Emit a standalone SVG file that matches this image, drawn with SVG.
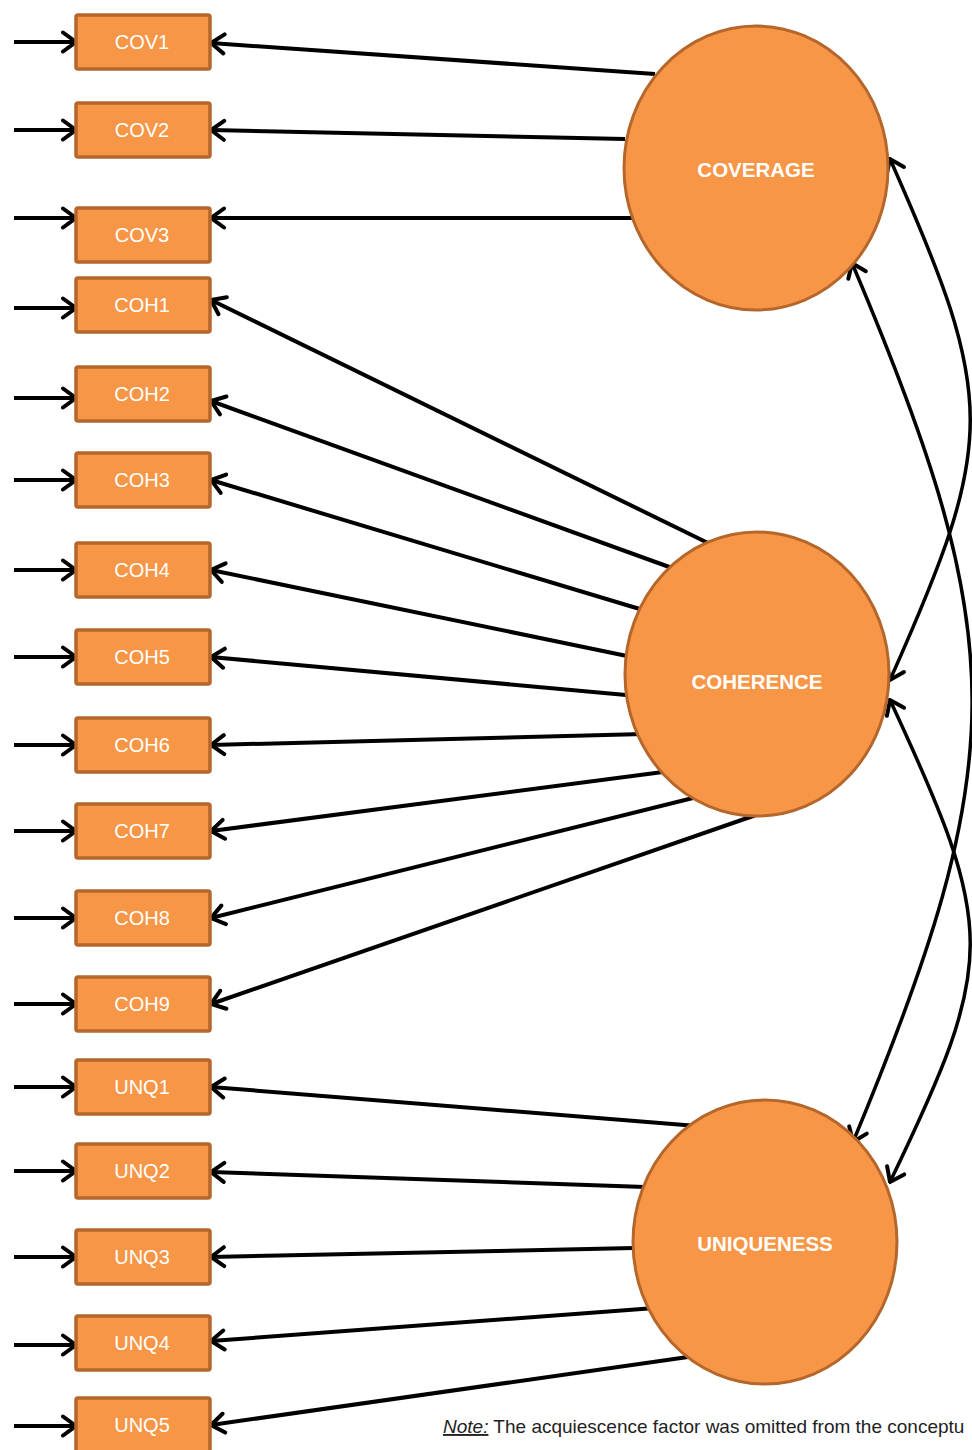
<svg xmlns="http://www.w3.org/2000/svg" width="972" height="1450" viewBox="0 0 972 1450">
<style>
.box{fill:#F79646;stroke:#B5662B;stroke-width:3.5}
.lat{fill:#F79646;stroke:#B5662B;stroke-width:3}
.bl{font-family:"Liberation Sans",Arial,sans-serif;font-size:20px;fill:#FFFFFF;text-anchor:middle;dominant-baseline:central}
.ll{font-family:"Liberation Sans",Arial,sans-serif;font-size:20.5px;font-weight:bold;fill:#FFFFFF;text-anchor:middle;dominant-baseline:central}
.c{fill:none;stroke:#000000;stroke-width:4;marker-end:url(#arr)}
.cc{fill:none;stroke:#000000;stroke-width:3.5;marker-start:url(#arr);marker-end:url(#arr)}
.note{font-family:"Liberation Sans",Arial,sans-serif;font-size:19px;fill:#222222}
</style>
<defs>
<marker id="arr" viewBox="0 0 18 24" refX="16" refY="12" markerWidth="18" markerHeight="24" markerUnits="userSpaceOnUse" orient="auto-start-reverse">
<path d="M3,2.5 L16,12 L3,21.5" fill="none" stroke="#000000" stroke-width="4" stroke-linecap="round" stroke-linejoin="miter"/>
</marker>
</defs>
<rect width="972" height="1450" fill="#FFFFFF"/>

<g id="connectors">
<line class="c" x1="14" y1="42" x2="76" y2="42"/>
<line class="c" x1="14" y1="130" x2="76" y2="130"/>
<line class="c" x1="14" y1="218" x2="76" y2="218"/>
<line class="c" x1="14" y1="308" x2="76" y2="308"/>
<line class="c" x1="14" y1="398" x2="76" y2="398"/>
<line class="c" x1="14" y1="480" x2="76" y2="480"/>
<line class="c" x1="14" y1="570" x2="76" y2="570"/>
<line class="c" x1="14" y1="657" x2="76" y2="657"/>
<line class="c" x1="14" y1="745" x2="76" y2="745"/>
<line class="c" x1="14" y1="831" x2="76" y2="831"/>
<line class="c" x1="14" y1="918" x2="76" y2="918"/>
<line class="c" x1="14" y1="1004" x2="76" y2="1004"/>
<line class="c" x1="14" y1="1087" x2="76" y2="1087"/>
<line class="c" x1="14" y1="1171" x2="76" y2="1171"/>
<line class="c" x1="14" y1="1257" x2="76" y2="1257"/>
<line class="c" x1="14" y1="1345" x2="76" y2="1345"/>
<line class="c" x1="14" y1="1426" x2="76" y2="1426"/>
<line class="c" x1="655" y1="74" x2="211" y2="43"/>
<line class="c" x1="625" y1="139" x2="211" y2="130"/>
<line class="c" x1="632" y1="218" x2="211" y2="218"/>
<line class="c" x1="708" y1="543" x2="211" y2="300"/>
<line class="c" x1="672" y1="568" x2="211" y2="401"/>
<line class="c" x1="643" y1="610" x2="211" y2="480"/>
<line class="c" x1="627" y1="656" x2="211" y2="570"/>
<line class="c" x1="626" y1="695" x2="211" y2="657"/>
<line class="c" x1="644" y1="734" x2="211" y2="745"/>
<line class="c" x1="663" y1="772" x2="211" y2="831"/>
<line class="c" x1="697" y1="797" x2="211" y2="918"/>
<line class="c" x1="756" y1="815" x2="211" y2="1004"/>
<line class="c" x1="697" y1="1126" x2="211" y2="1087"/>
<line class="c" x1="645" y1="1187" x2="211" y2="1172"/>
<line class="c" x1="634" y1="1248" x2="211" y2="1257"/>
<line class="c" x1="655" y1="1308" x2="211" y2="1341"/>
<line class="c" x1="688" y1="1357" x2="211" y2="1425"/>
<path class="cc" d="M890,159 C997,400 997,440 890,680"/>
<path class="cc" d="M852,263 C1012,640 1012,760 853,1142"/>
<path class="cc" d="M890,700 C997,930 997,960 890,1182"/>
</g>

<g id="COV1"><rect class="box" x="76" y="15" width="134" height="54" rx="2"/><text class="bl" x="142" y="42">COV1</text></g>
<g id="COV2"><rect class="box" x="76" y="103" width="134" height="54" rx="2"/><text class="bl" x="142" y="130">COV2</text></g>
<g id="COV3"><rect class="box" x="76" y="208" width="134" height="54" rx="2"/><text class="bl" x="142" y="235">COV3</text></g>
<g id="COH1"><rect class="box" x="76" y="278" width="134" height="54" rx="2"/><text class="bl" x="142" y="305">COH1</text></g>
<g id="COH2"><rect class="box" x="76" y="367" width="134" height="54" rx="2"/><text class="bl" x="142" y="394">COH2</text></g>
<g id="COH3"><rect class="box" x="76" y="453" width="134" height="54" rx="2"/><text class="bl" x="142" y="480">COH3</text></g>
<g id="COH4"><rect class="box" x="76" y="543" width="134" height="54" rx="2"/><text class="bl" x="142" y="570">COH4</text></g>
<g id="COH5"><rect class="box" x="76" y="630" width="134" height="54" rx="2"/><text class="bl" x="142" y="657">COH5</text></g>
<g id="COH6"><rect class="box" x="76" y="718" width="134" height="54" rx="2"/><text class="bl" x="142" y="745">COH6</text></g>
<g id="COH7"><rect class="box" x="76" y="804" width="134" height="54" rx="2"/><text class="bl" x="142" y="831">COH7</text></g>
<g id="COH8"><rect class="box" x="76" y="891" width="134" height="54" rx="2"/><text class="bl" x="142" y="918">COH8</text></g>
<g id="COH9"><rect class="box" x="76" y="977" width="134" height="54" rx="2"/><text class="bl" x="142" y="1004">COH9</text></g>
<g id="UNQ1"><rect class="box" x="76" y="1060" width="134" height="54" rx="2"/><text class="bl" x="142" y="1087">UNQ1</text></g>
<g id="UNQ2"><rect class="box" x="76" y="1144" width="134" height="54" rx="2"/><text class="bl" x="142" y="1171">UNQ2</text></g>
<g id="UNQ3"><rect class="box" x="76" y="1230" width="134" height="54" rx="2"/><text class="bl" x="142" y="1257">UNQ3</text></g>
<g id="UNQ4"><rect class="box" x="76" y="1316" width="134" height="54" rx="2"/><text class="bl" x="142" y="1343">UNQ4</text></g>
<g id="UNQ5"><rect class="box" x="76" y="1398" width="134" height="54" rx="2"/><text class="bl" x="142" y="1425">UNQ5</text></g>

<g id="COVERAGE"><ellipse class="lat" cx="756" cy="168" rx="132" ry="142"/><text class="ll" x="756" y="169">COVERAGE</text></g>
<g id="COHERENCE"><ellipse class="lat" cx="757" cy="674" rx="132" ry="142"/><text class="ll" x="757" y="681">COHERENCE</text></g>
<g id="UNIQUENESS"><ellipse class="lat" cx="765" cy="1242" rx="132" ry="142"/><text class="ll" x="765" y="1243">UNIQUENESS</text></g>

<g id="note"><text class="note" x="443" y="1433"><tspan font-style="italic" text-decoration="underline">Note:</tspan> The acquiescence factor was omitted from the conceptu</text></g>
</svg>
